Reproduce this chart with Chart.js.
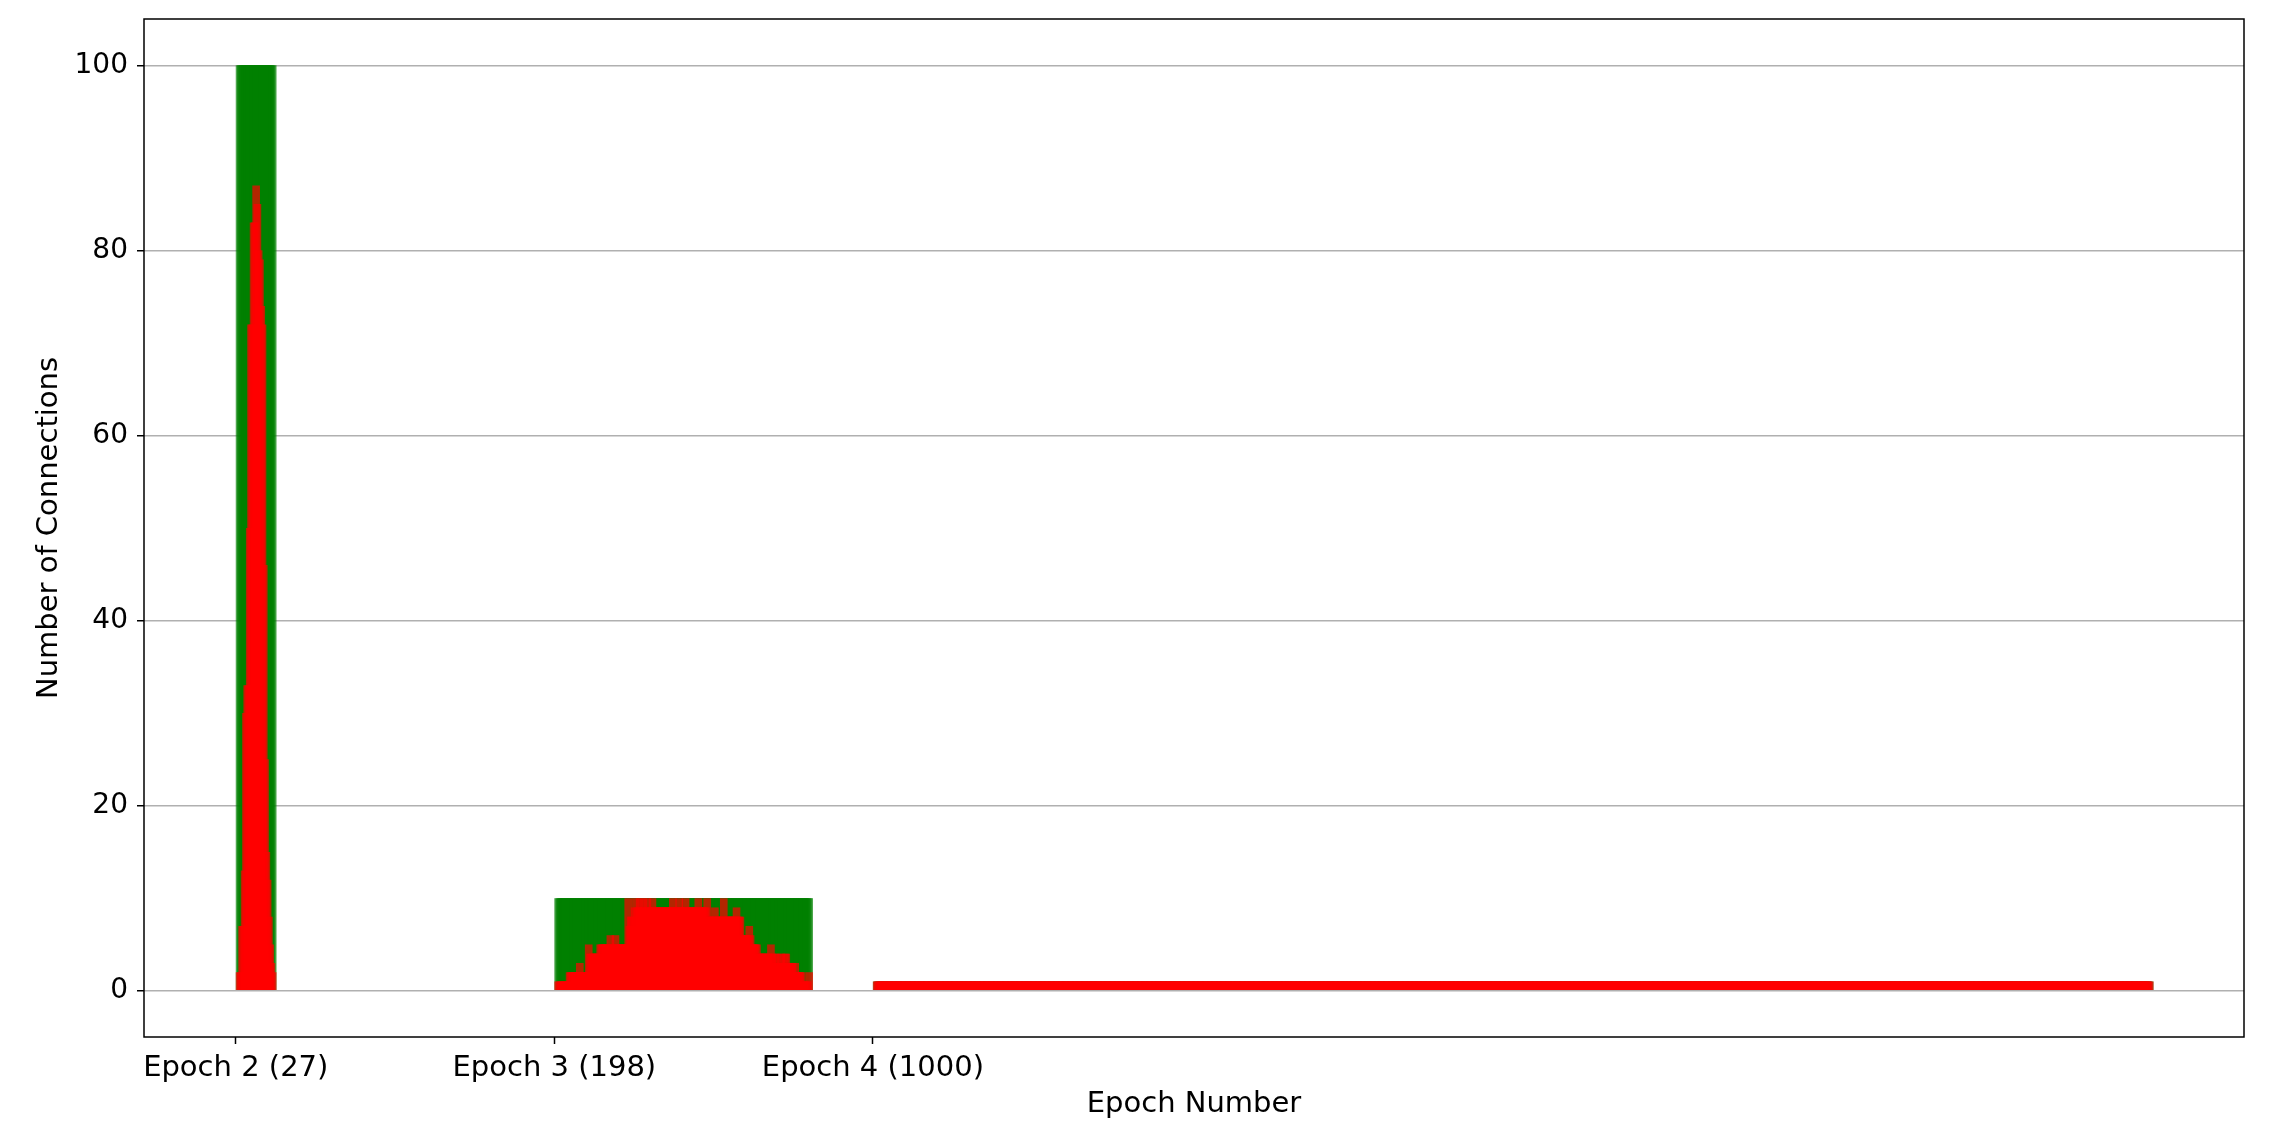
<!DOCTYPE html>
<html>
<head>
<meta charset="utf-8">
<script src="https://cdn.jsdelivr.net/npm/chart.js@4"></script>
<style>
  body { margin: 0; background: #fff; }
  #chart { display: block; }
</style>
</head>
<body>
<canvas id="chart" width="2271" height="1132"></canvas>
<script>
// x positions where each epoch's group of bars starts, and its tick label
let tickPositions = [0, 250, 500];
let tickLabels = ["Epoch 2 (27)", "Epoch 3 (198)", "Epoch 4 (1000)"];

// green bars: total connections per epoch (same height for every bar in a group)
let groupTotals = [100, 10, 1];

// red bars: connections per bar
let epoch2Counts = [2, 2, 7, 7, 13, 30, 33, 33, 50, 72, 72, 83, 83, 87, 85, 80, 79, 74, 72, 46, 25, 15, 12, 8, 5, 3, 2];

let epoch3Counts = [
    1, 1, 1, 1, 1, 1, 1, 1, 1,
    2, 2, 2, 2, 2, 2, 2, 2,
    3,
    2, 2, 2, 2, 2, 2,
    5,
    4, 4, 4, 4, 4, 4, 4, 4,
    5, 5, 5, 5, 5, 5, 5, 5,
    6, 5, 5, 5, 6,
    5, 5, 5, 5, 5, 5, 5, 5, 5,
    10, 7, 8, 8, 7, 9, 10,
    9, 9, 10, 9, 9, 10, 9, 9, 10, 9, 9, 9, 10, 9, 9,
    9, 9, 9, 9, 9, 9, 9, 9, 9, 9, 9, 9, 9,
    10, 9, 9, 9, 9, 10, 9, 9, 9, 9,
    10, 9, 9, 9, 9, 9, 9, 9, 9, 9,
    10, 9, 9, 9, 9, 9, 9,
    10, 8, 8, 8, 8, 8,
    9, 8, 8, 8, 8, 8, 8,
    10, 8, 8, 8, 8, 8, 8, 8, 8, 8,
    9, 8, 8, 8,
    6, 6, 6, 6, 6, 6,
    7, 6,
    5, 5, 5, 5, 5,
    4, 4, 4, 4, 4, 4, 4, 4, 4, 4,
    5,
    4, 3, 4, 3, 4, 3, 3, 4, 3, 3, 4, 4,
    3, 3, 3, 3, 3, 2, 3,
    2, 2, 2, 2, 2,
    1, 1, 1, 1, 1,
    2
];

let epoch4Counts = [
    1,1,1,1,1,1,1,1,1,1, 1,1,1,1,1,1,1,1,1,1, 1,1,1,1,1,1,1,1,1,1, 1,1,1,1,1,1,1,1,1,1, 1,1,1,1,1,1,1,1,1,1,
    1,1,1,1,1,1,1,1,1,1, 1,1,1,1,1,1,1,1,1,1, 1,1,1,1,1,1,1,1,1,1, 1,1,1,1,1,1,1,1,1,1, 1,1,1,1,1,1,1,1,1,1,
    1,1,1,1,1,1,1,1,1,1, 1,1,1,1,1,1,1,1,1,1, 1,1,1,1,1,1,1,1,1,1, 1,1,1,1,1,1,1,1,1,1, 1,1,1,1,1,1,1,1,1,1,
    1,1,1,1,1,1,1,1,1,1, 1,1,1,1,1,1,1,1,1,1, 1,1,1,1,1,1,1,1,1,1, 1,1,1,1,1,1,1,1,1,1, 1,1,1,1,1,1,1,1,1,1,
    1,1,1,1,1,1,1,1,1,1, 1,1,1,1,1,1,1,1,1,1, 1,1,1,1,1,1,1,1,1,1, 1,1,1,1,1,1,1,1,1,1, 1,1,1,1,1,1,1,1,1,1,
    1,1,1,1,1,1,1,1,1,1, 1,1,1,1,1,1,1,1,1,1, 1,1,1,1,1,1,1,1,1,1, 1,1,1,1,1,1,1,1,1,1, 1,1,1,1,1,1,1,1,1,1,
    1,1,1,1,1,1,1,1,1,1, 1,1,1,1,1,1,1,1,1,1, 1,1,1,1,1,1,1,1,1,1, 1,1,1,1,1,1,1,1,1,1, 1,1,1,1,1,1,1,1,1,1,
    1,1,1,1,1,1,1,1,1,1, 1,1,1,1,1,1,1,1,1,1, 1,1,1,1,1,1,1,1,1,1, 1,1,1,1,1,1,1,1,1,1, 1,1,1,1,1,1,1,1,1,1,
    1,1,1,1,1,1,1,1,1,1, 1,1,1,1,1,1,1,1,1,1, 1,1,1,1,1,1,1,1,1,1, 1,1,1,1,1,1,1,1,1,1, 1,1,1,1,1,1,1,1,1,1,
    1,1,1,1,1,1,1,1,1,1, 1,1,1,1,1,1,1,1,1,1, 1,1,1,1,1,1,1,1,1,1, 1,1,1,1,1,1,1,1,1,1, 1,1,1,1,1,1,1,1,1,1,
    1,1,1,1,1,1,1,1,1,1, 1,1,1,1,1,1,1,1,1,1, 1,1,1,1,1,1,1,1,1,1, 1,1,1,1,1,1,1,1,1,1, 1,1,1,1,1,1,1,1,1,1,
    1,1,1,1,1,1,1,1,1,1, 1,1,1,1,1,1,1,1,1,1, 1,1,1,1,1,1,1,1,1,1, 1,1,1,1,1,1,1,1,1,1, 1,1,1,1,1,1,1,1,1,1,
    1,1,1,1,1,1,1,1,1,1, 1,1,1,1,1,1,1,1,1,1, 1,1,1,1,1,1,1,1,1,1, 1,1,1,1,1,1,1,1,1,1, 1,1,1,1,1,1,1,1,1,1,
    1,1,1,1,1,1,1,1,1,1, 1,1,1,1,1,1,1,1,1,1, 1,1,1,1,1,1,1,1,1,1, 1,1,1,1,1,1,1,1,1,1, 1,1,1,1,1,1,1,1,1,1,
    1,1,1,1,1,1,1,1,1,1, 1,1,1,1,1,1,1,1,1,1, 1,1,1,1,1,1,1,1,1,1, 1,1,1,1,1,1,1,1,1,1, 1,1,1,1,1,1,1,1,1,1,
    1,1,1,1,1,1,1,1,1,1, 1,1,1,1,1,1,1,1,1,1, 1,1,1,1,1,1,1,1,1,1, 1,1,1,1,1,1,1,1,1,1, 1,1,1,1,1,1,1,1,1,1,
    1,1,1,1,1,1,1,1,1,1, 1,1,1,1,1,1,1,1,1,1, 1,1,1,1,1,1,1,1,1,1, 1,1,1,1,1,1,1,1,1,1, 1,1,1,1,1,1,1,1,1,1,
    1,1,1,1,1,1,1,1,1,1, 1,1,1,1,1,1,1,1,1,1, 1,1,1,1,1,1,1,1,1,1, 1,1,1,1,1,1,1,1,1,1, 1,1,1,1,1,1,1,1,1,1,
    1,1,1,1,1,1,1,1,1,1, 1,1,1,1,1,1,1,1,1,1, 1,1,1,1,1,1,1,1,1,1, 1,1,1,1,1,1,1,1,1,1, 1,1,1,1,1,1,1,1,1,1,
    1,1,1,1,1,1,1,1,1,1, 1,1,1,1,1,1,1,1,1,1, 1,1,1,1,1,1,1,1,1,1, 1,1,1,1,1,1,1,1,1,1, 1,1,1,1,1,1,1,1,1,1
];

let yTicks = [0, 20, 40, 60, 80, 100];

// each bar is wider than the step between bars, so neighbours overlap (like the original plot)
const BAR_WIDTH = 6;

let groups = [epoch2Counts, epoch3Counts, epoch4Counts];

// turn the per-bar counts into {x, y} points; bars are edge-aligned at start + i
let redPoints = [];
let greenPoints = [];
groups.forEach((counts, g) => {
    counts.forEach((c, i) => {
        let x = tickPositions[g] + i + BAR_WIDTH / 2;
        redPoints.push({ x: x, y: c });
        greenPoints.push({ x: x, y: groupTotals[g] });
    });
});

const FONT = "'DejaVu Sans', sans-serif";

// black box round the plot area
const frame = {
    id: "frame",
    afterDraw(chart) {
        let a = chart.chartArea;
        let ctx = chart.ctx;
        ctx.save();
        ctx.strokeStyle = "#000";
        ctx.lineWidth = 1.5;
        ctx.strokeRect(a.left, a.top, a.right - a.left, a.bottom - a.top);
        ctx.restore();
    }
};

let ctx = document.getElementById("chart").getContext("2d");
new Chart(ctx, {
    type: "bar",
    data: {
        datasets: [
            { label: "Connections", data: redPoints, backgroundColor: "rgba(255, 0, 0, 0.7)", order: 0 },
            { label: "Total", data: greenPoints, backgroundColor: "rgba(0, 128, 0, 0.7)", order: 1 }
        ]
    },
    options: {
        responsive: false,
        devicePixelRatio: 1,
        animation: false,
        events: [],
        layout: { padding: { top: 19, right: 27, left: 0, bottom: 0 } },
        datasets: {
            bar: { grouped: false, categoryPercentage: 1, barPercentage: BAR_WIDTH, borderWidth: 0, inflateAmount: 0 }
        },
        plugins: {
            legend: { display: false },
            tooltip: { enabled: false }
        },
        scales: {
            x: {
                type: "linear",
                min: -72,
                max: 1576,
                offset: false,
                afterBuildTicks: s => { s.ticks = tickPositions.map(v => ({ value: v })); },
                afterFit: s => { s.height = 95; s.paddingLeft = 0; s.paddingRight = 0; },
                ticks: {
                    color: "#000",
                    font: { family: FONT, size: 29 },
                    padding: 7,
                    maxRotation: 0,
                    autoSkip: false,
                    callback: (v, i) => tickLabels[i]
                },
                grid: { offset: false, drawOnChartArea: false, drawTicks: true, tickLength: 7, tickColor: "#000", tickWidth: 1.5 },
                border: { display: false },
                title: {
                    display: true,
                    text: "Epoch Number",
                    color: "#000",
                    font: { family: FONT, size: 29 },
                    padding: { top: 0, bottom: 10 }
                }
            },
            y: {
                min: -5,
                max: 105,
                afterBuildTicks: s => { s.ticks = yTicks.map(v => ({ value: v })); },
                afterFit: s => { s.width = 144; s.paddingTop = 0; s.paddingBottom = 0; },
                ticks: {
                    color: "#000",
                    font: { family: FONT, size: 28 },
                    padding: 9
                },
                grid: { color: "#b0b0b0", lineWidth: 1.5, drawTicks: true, tickLength: 7, tickColor: "#000", tickWidth: 1.5 },
                border: { display: false },
                title: {
                    display: true,
                    text: "Number of Connections",
                    color: "#000",
                    font: { family: FONT, size: 29 },
                    padding: { top: 32, bottom: 0 }
                }
            }
        }
    },
    plugins: [frame]
});
</script>
</body>
</html>
